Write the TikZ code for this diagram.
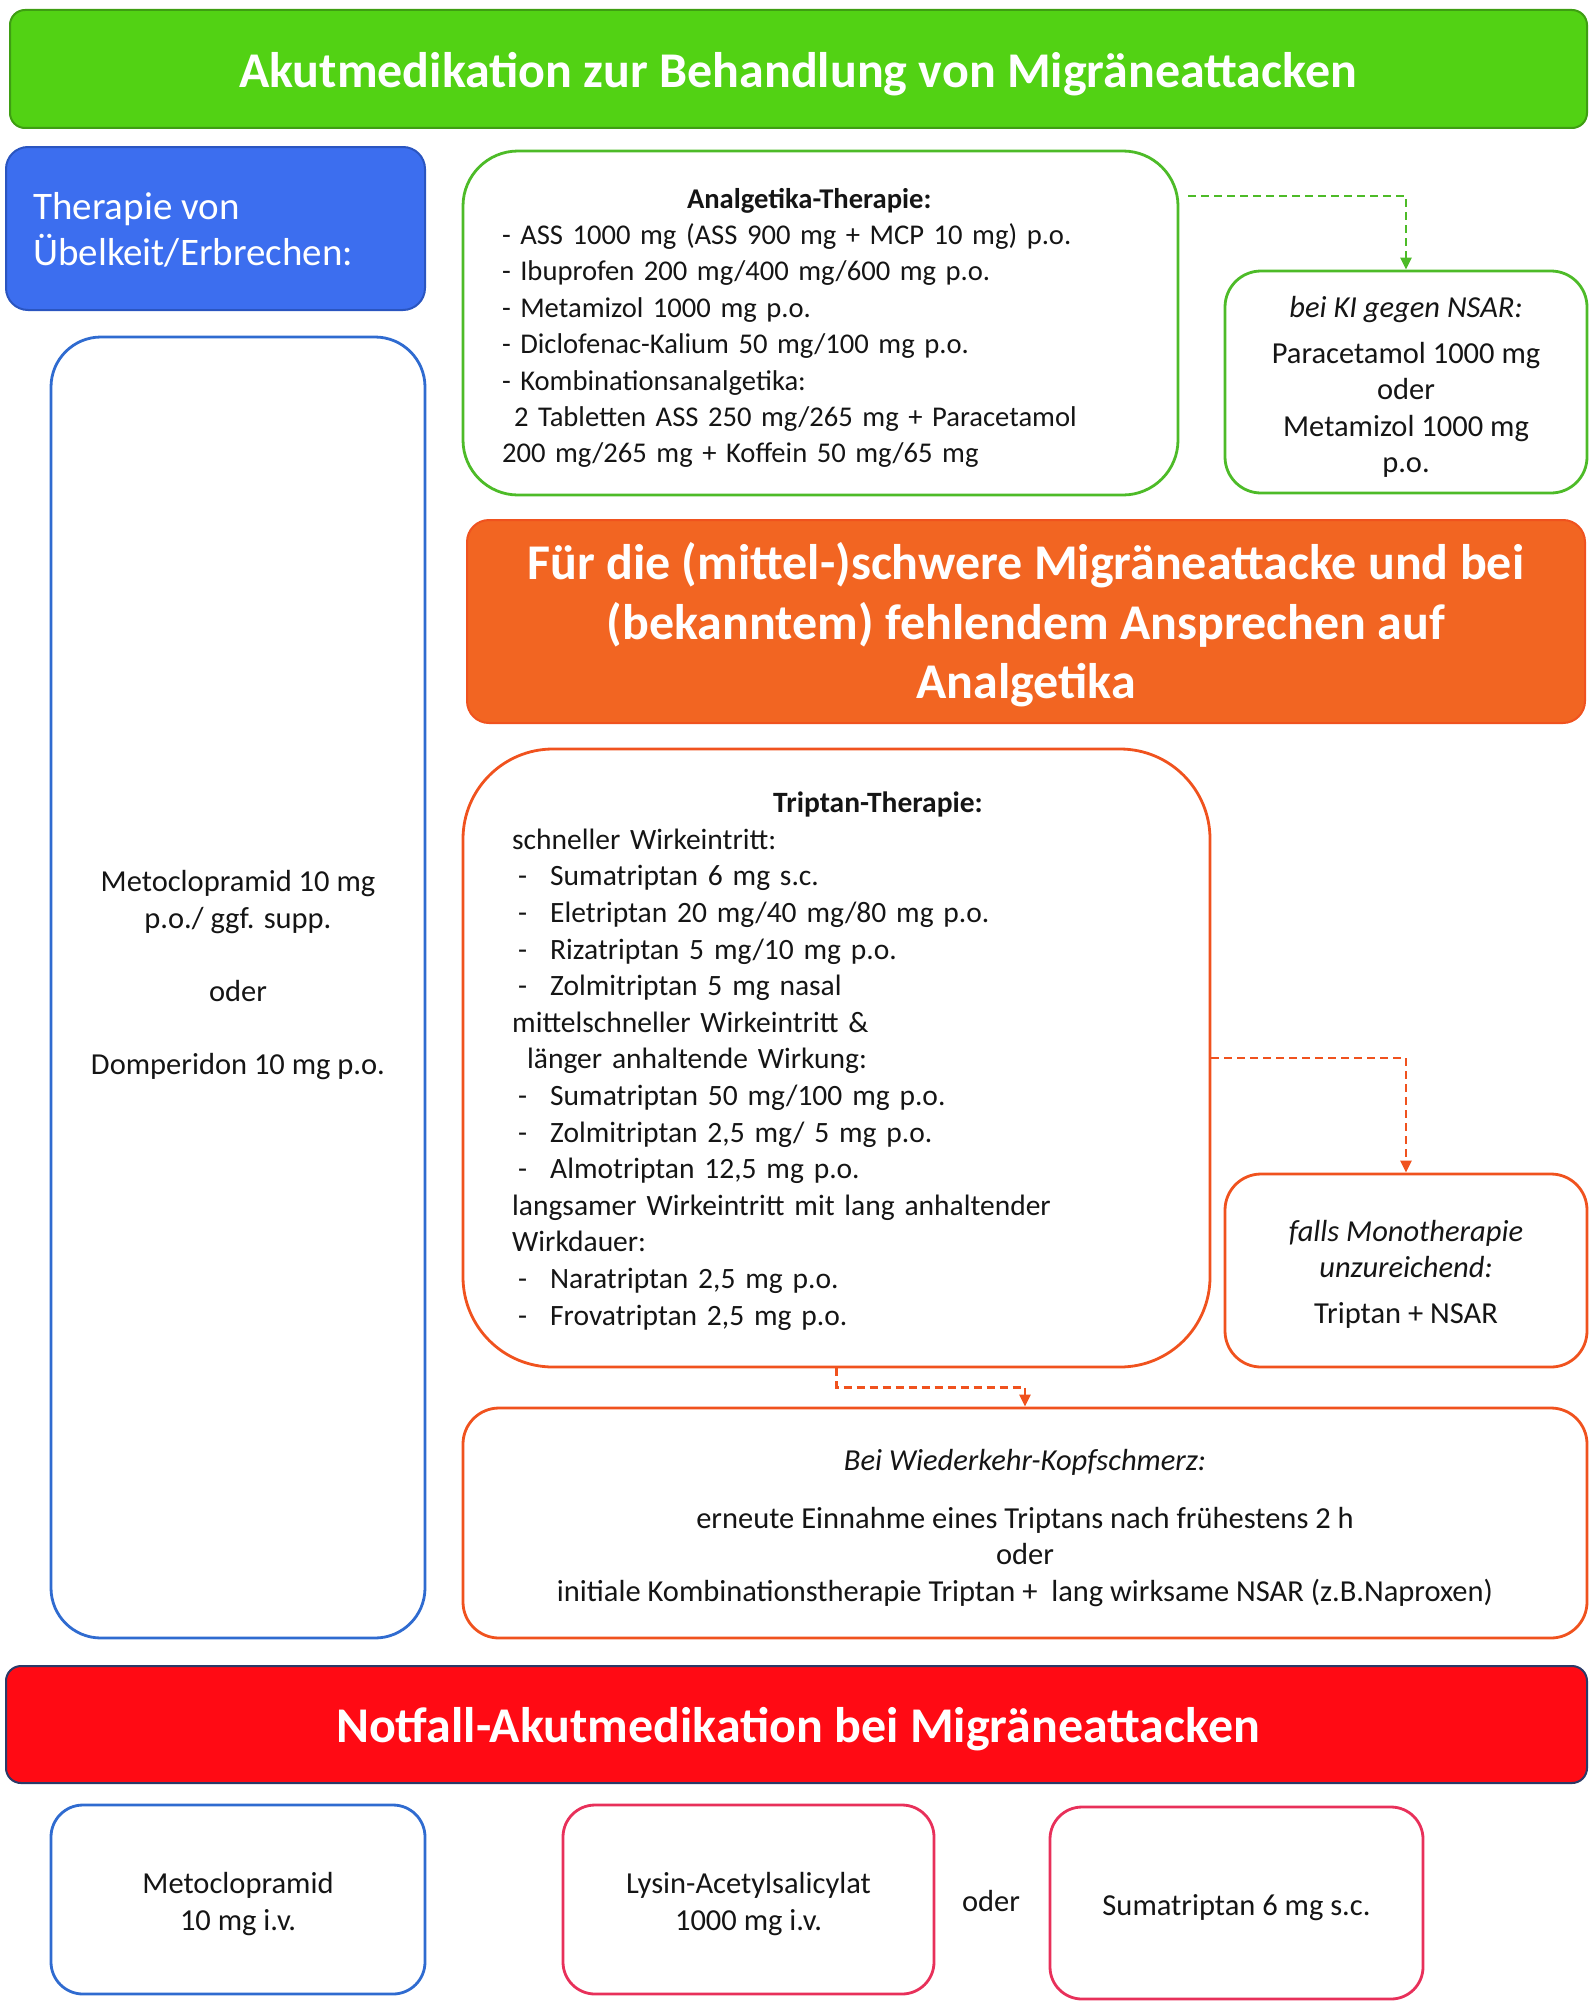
\documentclass[tikz,border=0pt]{standalone}
\usepackage{fontspec}
\setmainfont{Carlito}
\usetikzlibrary{arrows.meta,calc}
\definecolor{gfill}{HTML}{52D214}
\definecolor{gdark}{HTML}{3E9E12}
\definecolor{gline}{HTML}{4DBB28}
\definecolor{bfill}{HTML}{3C6EEF}
\definecolor{bdark}{HTML}{2A55C0}
\definecolor{bline}{HTML}{2F6BD0}
\definecolor{ofill}{HTML}{F26522}
\definecolor{oline}{HTML}{F0521E}
\definecolor{rfill}{HTML}{FF0A14}
\definecolor{rdark}{HTML}{2B3A67}
\definecolor{pline}{HTML}{E8305A}
\definecolor{txt}{HTML}{151515}
\setlength\parindent{0pt}
\newcommand\bodyfs{\fontsize{30.5pt}{36.6pt}\selectfont}
\newcommand\dashitem[1]{\makebox[38pt][l]{\hspace{6pt}-}#1}
\begin{document}
\begin{tikzpicture}[x=1pt,y=-1pt,
  outline/.style={draw=#1, line width=2.8pt, fill=white},
  banner/.style={line width=2pt},
  bannertxt/.style={text=white, font=\fontsize{50pt}{59.5pt}\selectfont\bfseries, align=center, inner sep=0pt},
  txtnode/.style={text=txt, font=\bodyfs, inner sep=0pt},
  dconn/.style={draw=#1, line width=2.6pt, dash pattern=on 8pt off 5pt, -{Triangle[length=12pt,width=11pt]}}
]
\useasboundingbox (0,0) rectangle (1595,2007);
% top banner
\node[banner, fill=gfill, draw=gdark, rounded corners=15pt, minimum width=1577pt, minimum height=118pt] (top) at (798.5,69) {};
\node[bannertxt] (toptxt) at (798,74) {Akutmedikation zur Behandlung von Migräneattacken};
% blue filled box
\node[fill=bfill, draw=bdark, line width=2pt, rounded corners=22pt, minimum width=419pt, minimum height=163pt] (nausea) at (215.5,228.5) {};
\node[anchor=west, text=white, font=\fontsize{39pt}{46pt}\selectfont, align=left, inner sep=0pt] (nauseatxt) at (33,230) {Therapie von\\Übelkeit/Erbrechen:};
% blue outline tall box
\node[outline=bline, rounded corners=50pt, minimum width=374pt, minimum height=1301pt] (meto) at (238,987.5) {};
\node[txtnode, align=center] (metotxt) at (238,975)
 {Metoclopramid 10 mg\\p.o./ ggf. supp.\\[36.6pt]oder\\[36.6pt]Domperidon 10 mg p.o.};
% Analgetika box
\node[outline=gline, rounded corners=55pt, minimum width=715pt, minimum height=344pt] (analg) at (820.5,323) {};
\node[txtnode, text width=640pt, font=\fontsize{28.6pt}{36.4pt}\selectfont] (analgtxt) at (822,328) {%
\hspace*{185pt}\textbf{Analgetika-Therapie:}\par
- ASS 1000 mg (ASS 900 mg + MCP 10 mg) p.o.\par
- Ibuprofen 200 mg/400 mg/600 mg p.o.\par
- Metamizol 1000 mg p.o.\par
- Diclofenac-Kalium 50 mg/100 mg p.o.\par
- Kombinationsanalgetika:\par
\hspace*{12pt}2 Tabletten ASS 250 mg/265 mg + Paracetamol\par
200 mg/265 mg + Koffein 50 mg/65 mg\par};
% KI box
\node[outline=gline, rounded corners=36pt, minimum width=362pt, minimum height=222pt] (ki) at (1406,382) {};
\node[txtnode, align=center] (kitxt) at (1406,387)
 {\textit{bei KI gegen NSAR:}\\[9pt]Paracetamol 1000 mg\\oder\\Metamizol 1000 mg\\p.o.};
% orange banner
\node[banner, fill=ofill, draw=oline, rounded corners=22pt, minimum width=1118pt, minimum height=203pt] (severe) at (1026,621.5) {};
\node[bannertxt] (severetxt) at (1026,625)
 {Für die (mittel-)schwere Migräneattacke und bei\\(bekanntem) fehlendem Ansprechen auf\\Analgetika};
% Triptan box
\node[outline=oline, rounded corners=90pt, minimum width=747pt, minimum height=618pt] (trip) at (836.5,1058) {};
\node[txtnode, anchor=west, text width=600pt, font=\fontsize{29.5pt}{36.6pt}\selectfont] (triptxt) at (512,1061) {%
\hspace*{261pt}\textbf{Triptan-Therapie:}\par
schneller Wirkeintritt:\par
\dashitem{Sumatriptan 6 mg s.c.}\par
\dashitem{Eletriptan 20 mg/40 mg/80 mg p.o.}\par
\dashitem{Rizatriptan 5 mg/10 mg p.o.}\par
\dashitem{Zolmitriptan 5 mg nasal}\par
mittelschneller Wirkeintritt \&\par
\hspace*{15pt}länger anhaltende Wirkung:\par
\dashitem{Sumatriptan 50 mg/100 mg p.o.}\par
\dashitem{Zolmitriptan 2,5 mg/ 5 mg p.o.}\par
\dashitem{Almotriptan 12,5 mg p.o.}\par
langsamer Wirkeintritt mit lang anhaltender\par
Wirkdauer:\par
\dashitem{Naratriptan 2,5 mg p.o.}\par
\dashitem{Frovatriptan 2,5 mg p.o.}\par};
% falls box
\node[outline=oline, rounded corners=36pt, minimum width=362pt, minimum height=193pt] (falls) at (1406,1270.5) {};
\node[txtnode, align=center] (fallstxt) at (1406,1274)
 {\textit{falls Monotherapie}\\\textit{unzureichend:}\\[9pt]Triptan + NSAR};
% Wiederkehr box
\node[outline=oline, rounded corners=36pt, minimum width=1124pt, minimum height=230pt] (wied) at (1025,1523) {};
\node[txtnode, align=center] (wiedtxt) at (1025,1528)
 {\textit{Bei Wiederkehr-Kopfschmerz:}\\[21pt]erneute Einnahme eines Triptans nach frühestens 2 h\\oder\\initiale Kombinationstherapie Triptan +\ \ lang wirksame NSAR (z.B.Naproxen)};
% red banner
\node[banner, fill=rfill, draw=rdark, rounded corners=15pt, minimum width=1581pt, minimum height=117pt] (notfall) at (796.5,1724.5) {};
\node[bannertxt] (notfalltxt) at (798,1729) {Notfall-Akutmedikation bei Migräneattacken};
% bottom boxes
\node[outline=bline, rounded corners=32pt, minimum width=374pt, minimum height=189pt] (meto2) at (238,1899.5) {};
\node[txtnode, align=center] (meto2txt) at (238,1904) {Metoclopramid\\10 mg i.v.};
\node[outline=pline, rounded corners=32pt, minimum width=371pt, minimum height=189pt] (lysin) at (748.5,1899.5) {};
\node[txtnode, align=center] (lysintxt) at (748.5,1904) {Lysin-Acetylsalicylat\\1000 mg i.v.};
\node[txtnode] (oder) at (991,1901) {oder};
\node[outline=pline, rounded corners=32pt, minimum width=373pt, minimum height=192pt] (suma) at (1236.5,1903) {};
\node[txtnode] (sumatxt) at (1236.5,1908) {Sumatriptan 6 mg s.c.};
% connectors
\coordinate (gstart) at (1188,196);
\draw[dconn=gline] (gstart) -| (ki.north);
\draw[dconn=oline] (trip.east) -| (falls.north);
\draw[dconn=oline] (trip.south) -- ++(0,19) -| (wied.north);
\end{tikzpicture}
\end{document}
